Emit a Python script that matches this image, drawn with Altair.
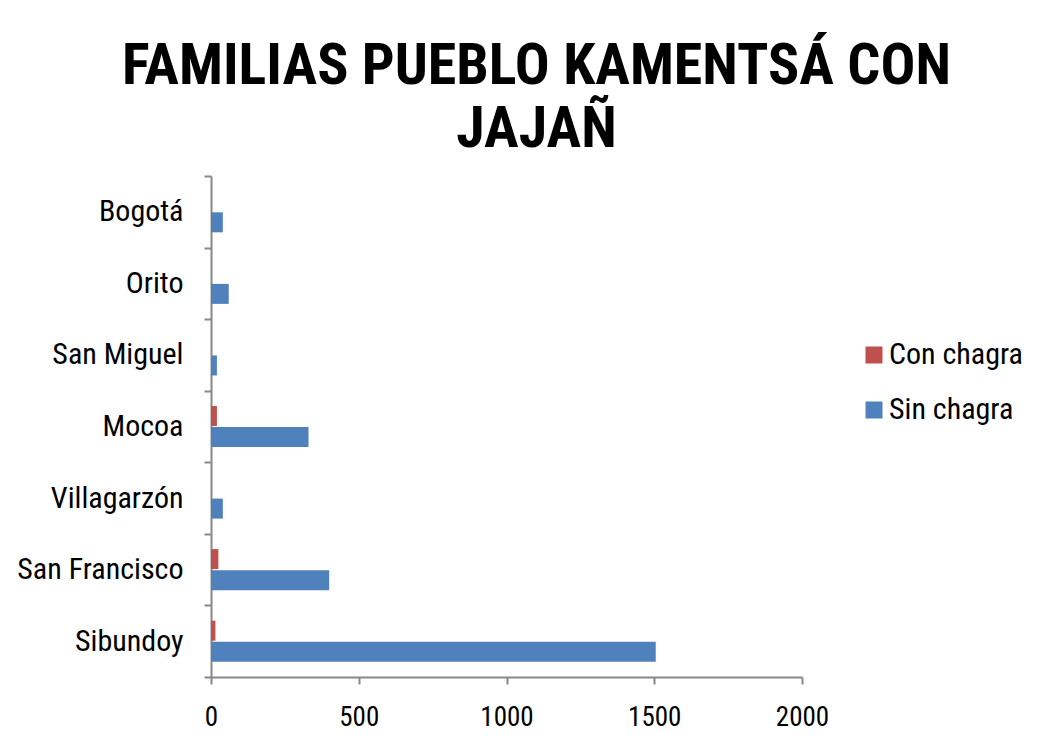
import altair as alt
import pandas as pd

lugares = ["Bogotá", "Orito\u00a0", "San Miguel", "Mocoa", "Villagarzón", "San Francisco", "Sibundoy"]
con_chagra = [0, 0, 0, 20, 0, 25, 15]
sin_chagra = [40, 60, 20, 330, 40, 400, 1505]
series = ["Con chagra", "Sin chagra"]
colores = ["#C0504D", "#4F81BD"]
ticks_x = [0, 500, 1000, 1500, 2000]

rows = []
for i, lugar in enumerate(lugares):
    rows.append({"Lugar": lugar, "Serie": series[0], "Familias": con_chagra[i]})
    rows.append({"Lugar": lugar, "Serie": series[1], "Familias": sin_chagra[i]})
df = pd.DataFrame(rows)

FONT = "Roboto Condensed, DejaVu Sans Condensed, Liberation Sans Narrow, Liberation Sans"

chart = alt.Chart(df).mark_bar(stroke=None).encode(
    y=alt.Y("Lugar:N", sort=lugares,
            scale=alt.Scale(paddingInner=0, paddingOuter=0),
            axis=alt.Axis(title=None, labelFontSize=30, labelFont=FONT, labelColor="#000",
                          domainColor="#888888", domainWidth=2, tickColor="#888888",
                          tickWidth=2, tickSize=7, labelPadding=21, tickBand="extent",
                          grid=False)),
    yOffset=alt.YOffset("Serie:N", sort=series,
                        scale=alt.Scale(paddingInner=0.05, paddingOuter=0.725)),
    x=alt.X("Familias:Q", scale=alt.Scale(domain=[0, 2000], nice=False),
            axis=alt.Axis(title=None, values=ticks_x, labelFontSize=27, labelFont=FONT,
                          labelColor="#000", domainColor="#888888", domainWidth=2,
                          tickColor="#888888", tickWidth=2, tickSize=7, labelPadding=20,
                          labelFlush=False, grid=False, format="d")),
    color=alt.Color("Serie:N", sort=series,
                    scale=alt.Scale(domain=series, range=colores),
                    legend=alt.Legend(title=None, orient="none", legendX=648, legendY=164,
                                      symbolType="square", symbolSize=289, symbolStrokeWidth=0,
                                      labelFontSize=30, labelFont=FONT, labelColor="#000",
                                      rowPadding=25, labelOffset=0)),
).properties(
    width=591,
    height=501,
    autosize=alt.AutoSizeParams(type="none"),
    padding={"left": 203, "top": 168, "right": 240, "bottom": 60},
    background="white",
    title=alt.TitleParams(text=["FAMILIAS PUEBLO KAMENTSÁ CON", "JAJAÑ"], fontSize=58,
                          font=FONT, fontWeight="bold", color="#000", anchor="middle",
                          dx=30, offset=2, lineHeight=63),
).configure_view(stroke=None)

chart.save("out.html", embed_options={"renderer": "svg", "actions": False})
